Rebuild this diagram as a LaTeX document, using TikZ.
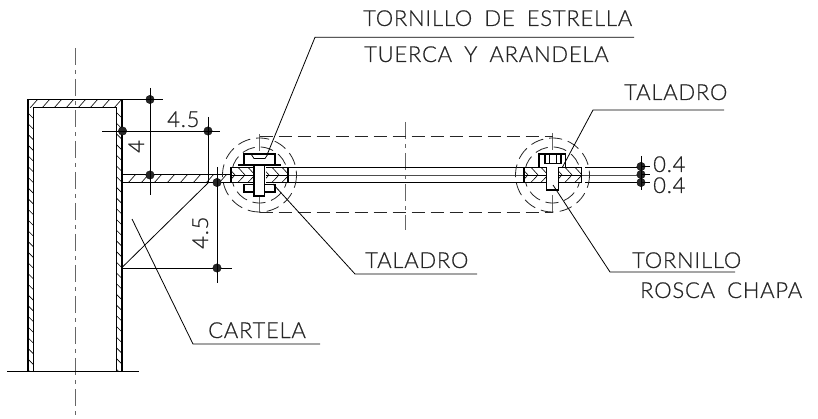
\documentclass[tikz,border=0pt]{standalone}
\usepackage{fontspec}
\setmainfont{Lato Light}[LetterSpace=3.5,WordSpace=1.8,FakeBold=0.6]
\tikzset{
 x=1pt,y=-1pt,
 lbl/.style={inner sep=0pt,anchor=base west,font=\fontsize{22}{22}\selectfont,text=black!85},
 ln/.style={line width=0.8pt,black},
 thick line/.style={line width=1.3pt,black},
 thin line/.style={line width=0.6pt,black},
 centre line/.style={line width=0.9pt,black!60,dash pattern=on 17pt off 5pt on 4pt off 5pt},
 hidden line/.style={line width=0.8pt,black!85,dash pattern=on 13pt off 6pt},
 dimdot/.style={circle,fill=black!85,draw=black,line width=0.3pt,minimum size=8.5pt,inner sep=0pt},
}
\begin{document}
\begin{tikzpicture}
\useasboundingbox (0,0) rectangle (818,419);
% centre lines
\draw[centre line] (75,48) -- (75,416);
\draw[centre line] (405,122) -- (405,230);
\draw[centre line] (259.5,134) -- (259.5,213);
\draw[centre line] (552.5,133) -- (552.5,212);
% tube
\draw[thick line] (28,371.5) -- (28,99.5) -- (122,99.5) -- (122,371.5);
\draw[thick line] (33.7,371.5) -- (33.7,107.3) -- (116.7,107.3) -- (116.7,371.5);
\draw[ln] (7,371.5) -- (139,371.5);
\begin{scope}
\clip (28,107.3) rectangle (33.7,371.5);
\foreach \y in {112,122.7,...,372} \draw[thin line] (27,\y) -- (35,\y+8);
\end{scope}
\begin{scope}
\clip (116.7,107.3) rectangle (122,371.5);
\foreach \y in {112,122.7,...,372} \draw[thin line] (116,\y) -- (124,\y+8);
\end{scope}
\begin{scope}
\clip (28,99.5) rectangle (122,107.3);
\foreach \x in {30,42,...,126} \draw[thin line] (\x,108) -- (\x+8,99);
\end{scope}
% plate and gusset
\draw[thick line] (122,174.8) -- (231,174.8);
\draw[thick line] (122,182.5) -- (231,182.5);
\begin{scope}
\clip (122,174.8) rectangle (231,182.5);
\foreach \x in {128,141,...,232} \draw[thin line] (\x,183) -- (\x+8,174);
\end{scope}
\draw[ln] (122,267.5) -- (208,183);
\draw[ln] (122,268) -- (232,268);
% long plate lines
\draw[thick line] (288,167.3) -- (524,167.3);
\draw[ln,black!70] (288,175) -- (524,175);
\draw[thick line] (288,182.3) -- (524,182.3);
\draw[ln] (585,167.3) -- (641,167.3);
\draw[ln,black!70] (581.7,175) -- (641,175);
\draw[ln] (585,182.3) -- (641,182.3);
% hidden rectangle
\draw[hidden line] (259.5,136.7) -- (552.5,136.7);
\draw[hidden line] (259.5,212.7) -- (552.5,212.7);
% circles
\foreach \c/\r in {259.5/37,259.5/28,552.5/37,552.5/28}
  \draw[hidden line] (\c,175) circle[radius=\r];
% left fastener
\fill[white] (232,168) rectangle (287,182);
\draw[thick line] (231,167.3) -- (288,167.3) -- (288,182.3) -- (231,182.3) -- cycle;
\draw[ln] (231,175) -- (288,175);
\begin{scope}
\clip (231,167.3) rectangle (253,182.3);
\foreach \x in {228,238,...,258} {\draw[thin line] (\x,167.3) -- (\x+7,175) -- (\x,182.3);}
\end{scope}
\begin{scope}
\clip (266,167.3) rectangle (288,182.3);
\foreach \x in {262,272,...,292} {\draw[thin line] (\x,167.3) -- (\x+7,175) -- (\x,182.3);}
\end{scope}
\fill[white] (244.5,154.5) rectangle (274.5,166.5);
\fill[white] (253,160) rectangle (266,190);
\fill[white] (244.5,184) rectangle (274.5,192);
\draw[thick line] (244,165) -- (244,154) -- (275,154) -- (275,165);
\draw[thick line] (238,165) -- (281,165);
\draw[thick line] (254,165) -- (254,196) -- (264.5,196) -- (264.5,165);
\draw[thick line] (244,184) -- (244,192) -- (254,192);
\draw[thick line] (275,184) -- (275,192) -- (264.5,192);
\draw[ln] (244,184) -- (254,184) (264.5,184) -- (275,184);
\draw[ln] (251,154) -- (254,158.5) -- (265,158.5) -- (268,154);
% right fastener
\fill[white] (525,168) rectangle (581,182);
\draw[thick line] (524,167.3) -- (581.7,167.3) -- (581.7,182.3) -- (524,182.3) -- cycle;
\draw[ln] (524,175) -- (581.7,175);
\begin{scope}
\clip (524,167.3) rectangle (546.7,182.3);
\foreach \x in {521,531,...,551} {\draw[thin line] (\x,167.3) -- (\x+7,175) -- (\x,182.3);}
\end{scope}
\begin{scope}
\clip (558.7,167.3) rectangle (581.7,182.3);
\foreach \x in {555,565,...,585} {\draw[thin line] (\x,167.3) -- (\x+7,175) -- (\x,182.3);}
\end{scope}
\fill[white] (539.5,154.5) rectangle (565.2,167);
\fill[white] (547.3,160) rectangle (558.1,189);
\draw[thick line] (539,167.3) -- (539,154) -- (565.7,154) -- (565.7,167.3);
\draw[thick line] (546.7,167.3) -- (546.7,190) -- (558.7,190) -- (558.7,167.3);
\draw[thick line] (545,154) -- (545,163.5) -- (561,163.5) -- (561,154);
\draw[thin line] (549,154) -- (549,163.5) (556,154) -- (556,163.5);
% dimension lines
\node[dimdot] (d1) at (150,99.5) {};
\node[dimdot] (d2) at (122.5,131) {};
\node[dimdot] (d3) at (208,131) {};
\node[dimdot] (d4) at (150,175) {};
\node[dimdot] (d5) at (217,182.5) {};
\node[dimdot] (d6) at (217,268) {};
\node[dimdot] (d7) at (641,166.5) {};
\node[dimdot] (d8) at (641,174.5) {};
\node[dimdot] (d9) at (641,182.5) {};
\draw[ln] (122,99.5) -- (163,99.5);
\draw[ln] (150,88) -- (150,195);
\draw[ln] (102,131) -- (220,131);
\draw[ln] (208,117) -- (208,183);
\draw[ln] (217,167) -- (217,283);
\draw[ln] (641,156) -- (641,190);
\draw[ln] (641,166.5) -- (650,166.5) (641,174.5) -- (650,174.5) (641,182.5) -- (650,182.5);
% leaders
\draw[ln] (267,155) -- (315,37.3) -- (634,37.3);
\draw[ln] (562,168) -- (593,110) -- (724,110);
\draw[ln] (273,184) -- (355,274) -- (477,274);
\draw[ln] (553,185) -- (610,272) -- (735,272);
\draw[ln] (132,219) -- (193,344) -- (320,344);
% texts
\node[lbl] (t1) at (363,26) {TORNILLO DE ESTRELLA};
\node[lbl] (t2) at (364,62) {TUERCA Y ARANDELA};
\node[lbl] (t3) at (624,100) {TALADRO};
\node[lbl] (t4) at (365,268) {TALADRO};
\node[lbl] (t5) at (632,268) {TORNILLO};
\node[lbl] (t6) at (640,298) {ROSCA CHAPA};
\node[lbl] (t7) at (208,338) {CARTELA};
\node[lbl] (t8) at (167,127) {4.5};
\node[lbl,rotate=90] (t9) at (144,153) {4};
\node[lbl,rotate=90] (t10) at (208,249) {4.5};
\node[lbl] (t11) at (653,172) {0.4};
\node[lbl] (t12) at (653,193) {0.4};
\end{tikzpicture}
\end{document}
